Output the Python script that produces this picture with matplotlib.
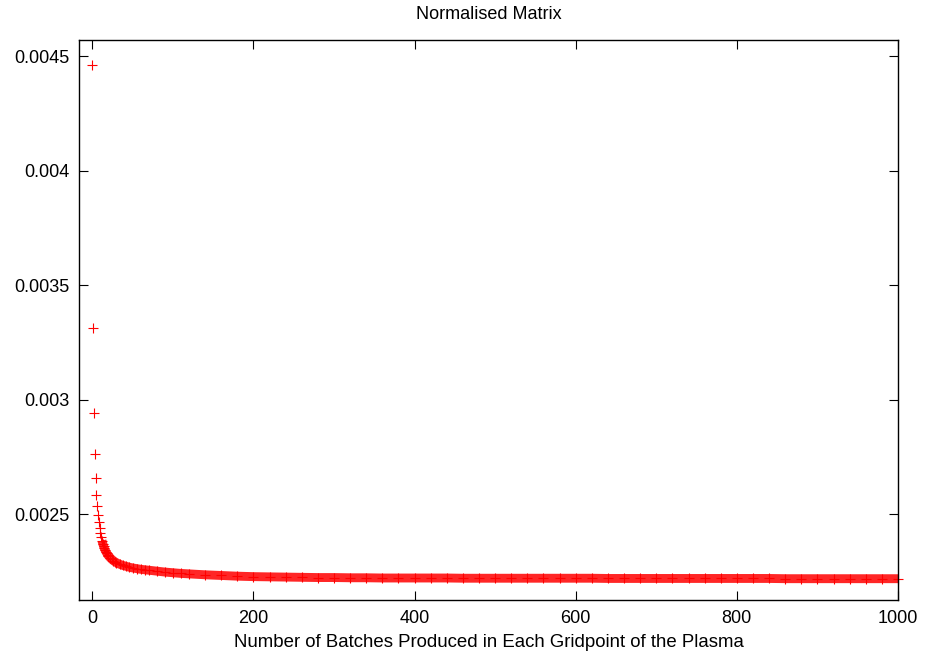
import numpy as np
import matplotlib
matplotlib.use("Agg")
import matplotlib.pyplot as plt

plt.rcParams['font.family'] = ['Liberation Sans', 'DejaVu Sans']

# batch index and normalised matrix value
batches = [0, 1, 2, 3, 4, 5, 6, 7, 8, 9,
           10, 11, 12, 13, 14, 15, 16, 17, 18, 19,
           20, 22, 24, 26, 28, 30, 34, 38, 42, 46,
           50, 55, 60, 65, 70, 80, 90, 100, 110, 120,
           140, 160, 180, 200, 220, 240, 260, 280, 300, 320,
           340, 360, 380, 400, 420, 440, 460, 480, 500, 520,
           540, 560, 580, 600, 620, 640, 660, 680, 700, 720,
           740, 760, 780, 800, 820, 840, 860, 880, 900, 920,
           940, 960, 980, 1000]
values = [0.004460, 0.003312, 0.002941, 0.002762, 0.002657, 0.002584, 0.002537, 0.002498, 0.002466, 0.002440,
          0.002418, 0.002400, 0.002385, 0.002372, 0.002361, 0.002351, 0.002343, 0.002336, 0.002330, 0.002324,
          0.002319, 0.002311, 0.002304, 0.002298, 0.002293, 0.002289, 0.002282, 0.002277, 0.002273, 0.002269,
          0.002266, 0.002263, 0.002260, 0.002258, 0.002256, 0.002252, 0.002248, 0.002245, 0.002242, 0.002240,
          0.002236, 0.002233, 0.002230, 0.002228, 0.002227, 0.002226, 0.002225, 0.002224, 0.002224, 0.002223,
          0.002223, 0.002222, 0.002222, 0.002222, 0.002222, 0.002222, 0.002221, 0.002221, 0.002221, 0.002221,
          0.002221, 0.002221, 0.002221, 0.002221, 0.002221, 0.002220, 0.002220, 0.002220, 0.002220, 0.002220,
          0.002220, 0.002220, 0.002220, 0.002220, 0.002220, 0.002220, 0.002219, 0.002219, 0.002219, 0.002219,
          0.002219, 0.002219, 0.002219, 0.002219]

xticks = [0, 200, 400, 600, 800, 1000]
yticks = [0.0025, 0.003, 0.0035, 0.004, 0.0045]
ytick_labels = ["0.0025", "0.003", "0.0035", "0.004", "0.0045"]

x = np.array(batches)
y = np.array(values)

fig = plt.figure(figsize=(9.29, 6.63), dpi=100)
ax = fig.add_axes([79 / 929, 1 - 600 / 663, (898 - 79) / 929, (600 - 40) / 663])

# the dense tail of '+' marks forms a solid band, draw it as a thick line
band = x >= 12
ax.plot(x[band], y[band], color='#ff0000', lw=6.4, alpha=0.85, solid_capstyle='butt')
ax.plot(x, y, linestyle='none', marker='+', markersize=6.5, markeredgewidth=0.8,
        color='#ff0000', clip_on=False)

ax.set_xlim(-16.5, 1000)
ax.set_ylim(0.002126, 0.00457)
ax.set_xticks(xticks)
ax.set_yticks(yticks)
ax.set_yticklabels(ytick_labels)
ax.tick_params(direction='in', length=6.7, width=0.8, top=True, right=True,
               labelsize=13, pad=7, colors='black')

for s in ax.spines.values():
    s.set_linewidth(1.0)
    s.set_color('black')

ax.set_title("Normalised Matrix", fontsize=13, pad=15)
ax.set_xlabel("Number of Batches Produced in Each Gridpoint of the Plasma", fontsize=13.4, labelpad=5)

fig.savefig("out.png", dpi=100)
